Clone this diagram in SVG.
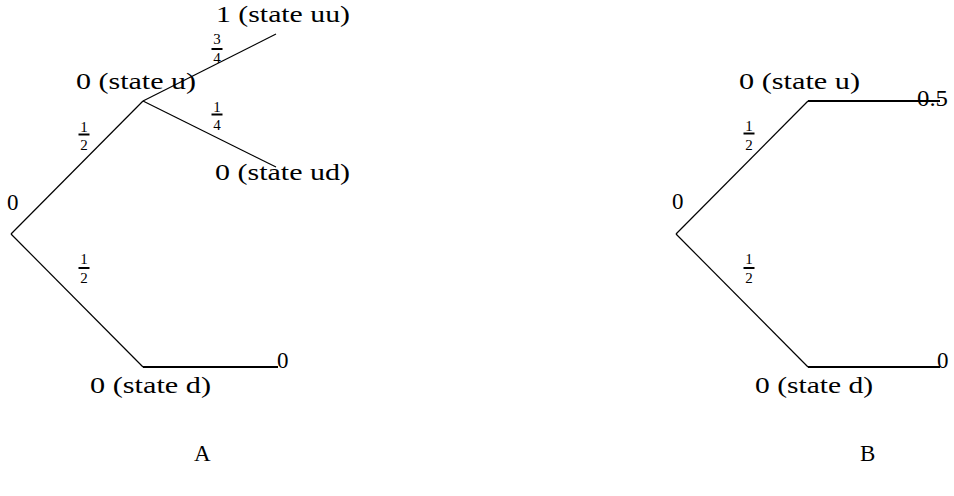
<svg xmlns="http://www.w3.org/2000/svg" width="954" height="496" viewBox="0 0 954 496">
<style>
.t{font-family:"Liberation Serif","DejaVu Serif",serif;font-size:23px;fill:#000}
.f{font-family:"Liberation Serif","DejaVu Serif",serif;font-size:15px;fill:#000;text-anchor:middle}
.e{stroke:#000;stroke-width:1.2;fill:none}
.h{stroke:#000;stroke-width:2.2;fill:none}
.bar{stroke:#000;stroke-width:2}
</style>
<rect width="954" height="496" fill="#fff"/>
<g id="connectors">
<line class="e" x1="11" y1="234" x2="143" y2="101"/>
<line class="e" x1="11" y1="234" x2="143" y2="367"/>
<line class="e" x1="143" y1="101" x2="276" y2="34"/>
<line class="e" x1="143" y1="101" x2="276" y2="167"/>
<line class="h" x1="143" y1="367" x2="278" y2="367"/>
<line class="e" x1="676" y1="234" x2="808" y2="101"/>
<line class="e" x1="676" y1="234" x2="808" y2="367"/>
<line class="h" x1="808" y1="101" x2="940" y2="101"/>
<line class="h" x1="808" y1="367" x2="940" y2="367"/>
</g>
<g id="probs">
<g id="pA1"><text class="f" x="84" y="132">1</text><line class="bar" x1="78.5" y1="134.5" x2="89.5" y2="134.5"/><text class="f" x="84" y="150">2</text></g>
<g id="pA2"><text class="f" x="84" y="264">1</text><line class="bar" x1="78.5" y1="268" x2="89.5" y2="268"/><text class="f" x="84" y="283">2</text></g>
<g id="pA3"><text class="f" x="217" y="44">3</text><line class="bar" x1="211.5" y1="49" x2="222.5" y2="49"/><text class="f" x="217" y="63">4</text></g>
<g id="pA4"><text class="f" x="217" y="112">1</text><line class="bar" x1="211.5" y1="114.5" x2="222.5" y2="114.5"/><text class="f" x="217" y="130">4</text></g>
<g id="pB1"><text class="f" x="749" y="131">1</text><line class="bar" x1="743.5" y1="133.5" x2="754.5" y2="133.5"/><text class="f" x="749" y="150">2</text></g>
<g id="pB2"><text class="f" x="749" y="264">1</text><line class="bar" x1="743.5" y1="268" x2="754.5" y2="268"/><text class="f" x="749" y="283">2</text></g>
</g>
<g id="A-root"><text class="t" x="7" y="210">0</text></g>
<g id="A-u"><text class="t" x="76" y="89" textLength="120" lengthAdjust="spacingAndGlyphs">0 (state u)</text></g>
<g id="A-uu"><text class="t" x="216" y="22" textLength="134" lengthAdjust="spacingAndGlyphs">1 (state uu)</text></g>
<g id="A-ud"><text class="t" x="215" y="180" textLength="135" lengthAdjust="spacingAndGlyphs">0 (state ud)</text></g>
<g id="A-d"><text class="t" x="90" y="393" textLength="121" lengthAdjust="spacingAndGlyphs">0 (state d)</text></g>
<g id="A-dend"><text class="t" x="277" y="368">0</text></g>
<g id="B-root"><text class="t" x="672" y="209">0</text></g>
<g id="B-u"><text class="t" x="739" y="89" textLength="121" lengthAdjust="spacingAndGlyphs">0 (state u)</text></g>
<g id="B-uend"><text class="t" x="917" y="106" textLength="31" lengthAdjust="spacingAndGlyphs">0.5</text></g>
<g id="B-d"><text class="t" x="755" y="393" textLength="118" lengthAdjust="spacingAndGlyphs">0 (state d)</text></g>
<g id="B-dend"><text class="t" x="937" y="368">0</text></g>
<g id="labelA"><text class="t" x="194" y="461">A</text></g>
<g id="labelB"><text class="t" x="860" y="461">B</text></g>
</svg>
